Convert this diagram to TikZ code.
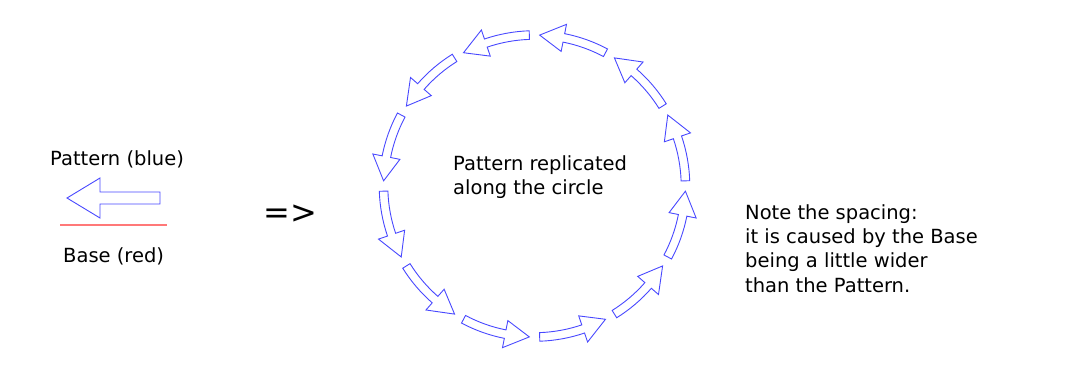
\documentclass[tikz,border=0pt]{standalone}
\usepackage{fontspec}
\setmainfont{DejaVu Sans}
\definecolor{patblue}{RGB}{72,72,255}
\definecolor{basered}{RGB}{255,120,120}

\begin{document}
\begin{tikzpicture}[
  x=1pt, y=-1pt,
  pat/.style={draw=patblue,line width=0.9pt,line join=miter},
  baseln/.style={draw=basered,line width=1.2pt},
  txt/.style={inner sep=0pt,anchor=base west,align=left,font=\fontsize{19.5}{24.2}\selectfont},
  big/.style={inner sep=0pt,anchor=base west,font=\fontsize{32}{38}\selectfont}
]
\useasboundingbox (0,0) rectangle (1088,381);
% ---------- pattern and base ----------
\node[txt] (lblpat) at (50,165) {Pattern (blue)};
\draw[pat] (160,192) -- (100,192) -- (100,178) -- (67,198) -- (100,218) -- (100,204) -- (160,204) -- cycle;
\draw[baseln] (60,225) -- (167,225);
\node[txt] (lblbase) at (63,262) {Base (red)};
\node[big] (implies) at (263,223) {=>};
% ---------- pattern along the circle ----------
\begin{scope}[shift={(534.5,186)},yscale=-1]
\foreach \k in {0,...,11}{
  \pgfmathsetmacro\ta{\k*30+1.96}
  \pgfmathsetmacro\tb{\k*30+18.8}
  \pgfmathsetmacro\tc{\k*30+28.04}
  \draw[pat] (\ta:155.3) arc[start angle=\ta,end angle=\tb,radius=155.3]
    -- (\tb:164.8) -- (\tc:151) -- (\tb:137.2) -- (\tb:146.7)
    arc[start angle=\tb,end angle=\ta,radius=146.7] -- cycle;
}
\end{scope}
% multi-line nodes: base is the last line
\node[txt] (lblcircle) at (453,194.5) {Pattern replicated\\along the circle};
% ---------- note ----------
\node[txt] (note) at (745,292) {Note the spacing:\\it is caused by the Base\\being a little wider\\than the Pattern.};
\end{tikzpicture}
\end{document}
